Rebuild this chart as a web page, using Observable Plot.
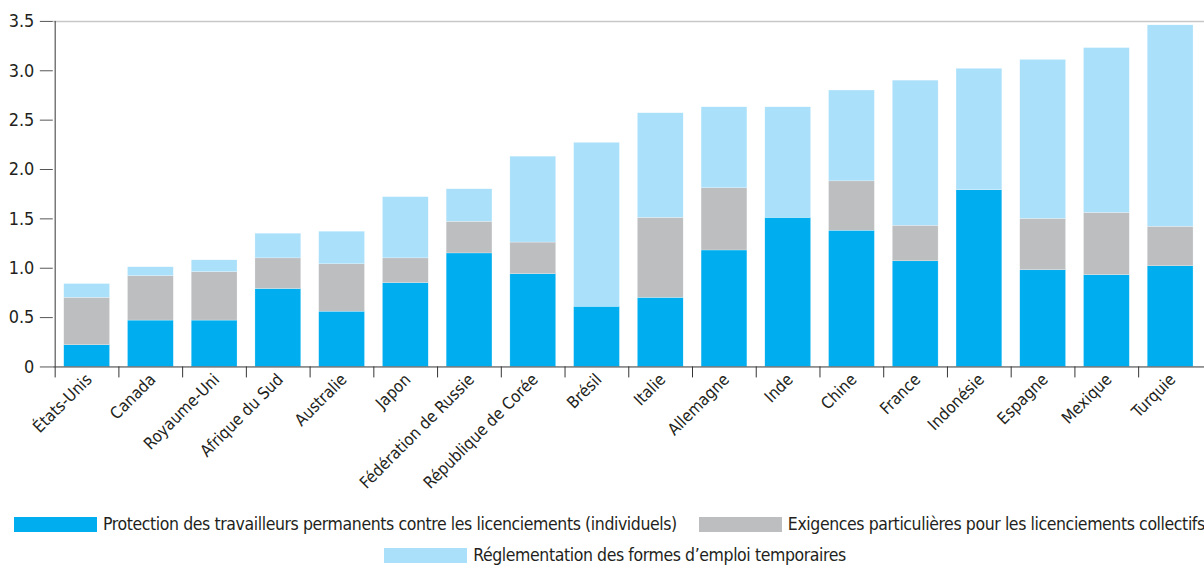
<!DOCTYPE html>
<html>
<head>
<meta charset="utf-8">
<script src="https://cdn.jsdelivr.net/npm/d3@7"></script>
<script src="https://cdn.jsdelivr.net/npm/@observablehq/plot@0.6"></script>
<style>
  html, body { margin: 0; padding: 0; background: #fff; overflow: hidden; width: 1204px; }
  body { font-family: "Liberation Sans Narrow", "DejaVu Sans Condensed", "Roboto Condensed", sans-serif; font-stretch: condensed; color: #231f20; }
  #chart svg { display: block; overflow: visible; }
  .legend { position: relative; font-size: 17.5px; letter-spacing: -0.4px; white-space: nowrap; }
  .row { display: flex; align-items: center; height: 31px; }
  .row1 { padding-left: 14px; }
  .row2 { justify-content: center; padding-left: 48px; }
  .item { display: flex; align-items: center; margin-right: 22px; }
  .sw { width: 83px; height: 15px; margin-right: 6px; }
</style>
</head>
<body>
<div id="chart"></div>
<div class="legend" id="legend"></div>
<script>
const countries = ["États-Unis","Canada","Royaume-Uni","Afrique du Sud","Australie","Japon","Fédération de Russie","République de Corée","Brésil","Italie","Allemagne","Inde","Chine","France","Indonésie","Espagne","Mexique","Turquie"];
const individual = [0.22,0.47,0.47,0.79,0.56,0.85,1.15,0.94,0.61,0.70,1.18,1.51,1.38,1.07,1.79,0.98,0.93,1.02];
const collective = [0.48,0.45,0.49,0.31,0.48,0.25,0.32,0.32,0,0.81,0.63,0,0.50,0.36,0,0.52,0.63,0.40];
const temporary = [0.14,0.09,0.12,0.25,0.33,0.62,0.33,0.87,1.66,1.06,0.82,1.12,0.92,1.47,1.23,1.61,1.67,2.04];
const seriesNames = [
  "Protection des travailleurs permanents contre les licenciements (individuels)",
  "Exigences particulières pour les licenciements collectifs",
  "Réglementation des formes d’emploi temporaires"
];
const seriesColors = ["#00aeef", "#bcbec0", "#aae0fa"];
const yTicks = [0, 0.5, 1, 1.5, 2, 2.5, 3, 3.5];

const seriesValues = [individual, collective, temporary];
const data = [];
countries.forEach((c, i) => {
  seriesValues.forEach((vals, s) => data.push({country: c, series: seriesNames[s], value: vals[i]}));
});

const width = 1209, marginLeft = 53, marginRight = 0;
const step = (width - marginLeft - marginRight) / countries.length;

const chart = Plot.plot({
  width, height: 500,
  marginLeft, marginRight, marginTop: 21, marginBottom: 132,
  style: {fontFamily: '"Liberation Sans Narrow", "DejaVu Sans Condensed", sans-serif', color: "#231f20", background: "white"},
  x: {domain: countries, paddingInner: 0.28, paddingOuter: 0.14, label: null},
  y: {domain: [0, 3.5], label: null},
  color: {domain: seriesNames, range: seriesColors},
  marks: [
    Plot.ruleY([3.5], {stroke: "#c8c8c8", strokeWidth: 1.5}),
    Plot.barY(data, {x: "country", y: "value", fill: "series", stroke: "#ffffff", strokeWidth: 0.4, strokeOpacity: 0.6}),
    Plot.ruleY([0], {stroke: "#333"}),
    Plot.ruleX([countries[0]], {y1: 0, y2: 3.5, dx: -step / 2, stroke: "#333"}),
    Plot.axisY({ticks: yTicks, tickSize: 13, tickPadding: 6, fontSize: 18, stroke: "#555",
      tickFormat: d => d === 0 ? "0" : d.toFixed(1)}),
    Plot.axisX({tickSize: 11, text: null, dx: -step / 2, stroke: "#333"}),
    Plot.axisX({tickSize: 0, tickPadding: 10, tickRotate: -45, fontSize: 16.5, dx: 2})
  ]
});
document.getElementById("chart").appendChild(chart);

const legend = document.getElementById("legend");
const rows = [[0, 1], [2]];
rows.forEach((r, ri) => {
  const row = document.createElement("div");
  row.className = "row " + (ri === 0 ? "row1" : "row2");
  r.forEach(i => {
    const item = document.createElement("div");
    item.className = "item";
    const sw = document.createElement("div");
    sw.className = "sw";
    sw.style.background = seriesColors[i];
    const t = document.createElement("span");
    t.textContent = seriesNames[i];
    item.appendChild(sw); item.appendChild(t);
    row.appendChild(item);
  });
  legend.appendChild(row);
});
legend.style.marginTop = "11px";
</script>
</body>
</html>
